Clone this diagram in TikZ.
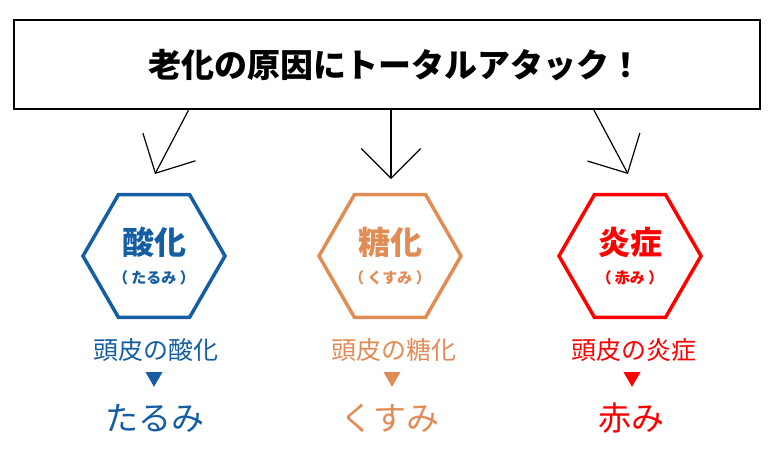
\documentclass[tikz,border=0pt]{standalone}
\usepackage{fontspec}
\setmainfont{Noto Sans CJK JP}
\usetikzlibrary{shapes.geometric,arrows.meta}
\definecolor{sanka}{RGB}{22,94,164}
\definecolor{touka}{RGB}{225,140,85}
\definecolor{enshou}{RGB}{255,0,0}
\begin{document}
\begin{tikzpicture}[x=1pt,y=-1pt,
    hexa/.style={regular polygon,regular polygon sides=6,minimum size=142pt,line width=3.5pt,draw=#1},
    big/.style={font=\fontsize{32}{34}\selectfont\bfseries,text=#1},
    small/.style={font=\fontsize{15}{17}\selectfont\bfseries,text=#1},
    cause/.style={font=\fontsize{25}{27}\selectfont,text=#1},
    tri/.style={regular polygon,regular polygon sides=3,shape border rotate=180,minimum size=19.6pt,inner sep=0pt,fill=#1},
    result/.style={font=\fontsize{33}{35}\selectfont,text=#1},
    arr/.style={line width=1.2pt,-{Straight Barb[angle=90:42pt]}}]
    \useasboundingbox (0,0) rectangle (772,451);
    % top box
    \node (title) at (386.5,64.7) [draw,line width=2pt,minimum width=746pt,minimum height=89pt,font=\fontsize{33}{37}\selectfont\bfseries] {\hspace*{18pt}老化の原因にトータルアタック！};
    \coordinate (tipA) at (155,174);
    \coordinate (tipB) at (391,179);
    \coordinate (tipC) at (628,174);
    \draw[arr] ([xshift=-198pt]title.south) -- (tipA);
    \draw[arr] ([xshift=4.5pt]title.south) -- (tipB);
    \draw[arr] ([xshift=207.5pt]title.south) -- (tipC);
    % oxidation
    \node (hexA) at (154,256) [hexa=sanka] {};
    \node (nameA) at (154,242) [big=sanka] {酸化};
    \node (subA) at (154,278) [small=sanka] {（ たるみ ）};
    \node (causeA) at (156,350) [cause=sanka] {頭皮の酸化};
    \node (triA) at (154,377) [tri=sanka] {};
    \node (resA) at (155,418) [result=sanka] {たるみ};
    % glycation
    \node (hexB) at (390,256) [hexa=touka] {};
    \node (nameB) at (390,242) [big=touka] {糖化};
    \node (subB) at (390,278) [small=touka] {（ くすみ ）};
    \node (causeB) at (394,350) [cause=touka] {頭皮の糖化};
    \node (triB) at (392,377) [tri=touka] {};
    \node (resB) at (390,418) [result=touka] {くすみ};
    % inflammation
    \node (hexC) at (630,256) [hexa=enshou] {};
    \node (nameC) at (630,242) [big=enshou] {炎症};
    \node (subC) at (630,278) [small=enshou] {（ 赤み ）};
    \node (causeC) at (634,350) [cause=enshou] {頭皮の炎症};
    \node (triC) at (632,377) [tri=enshou] {};
    \node (resC) at (631,418) [result=enshou] {赤み};
\end{tikzpicture}
\end{document}
